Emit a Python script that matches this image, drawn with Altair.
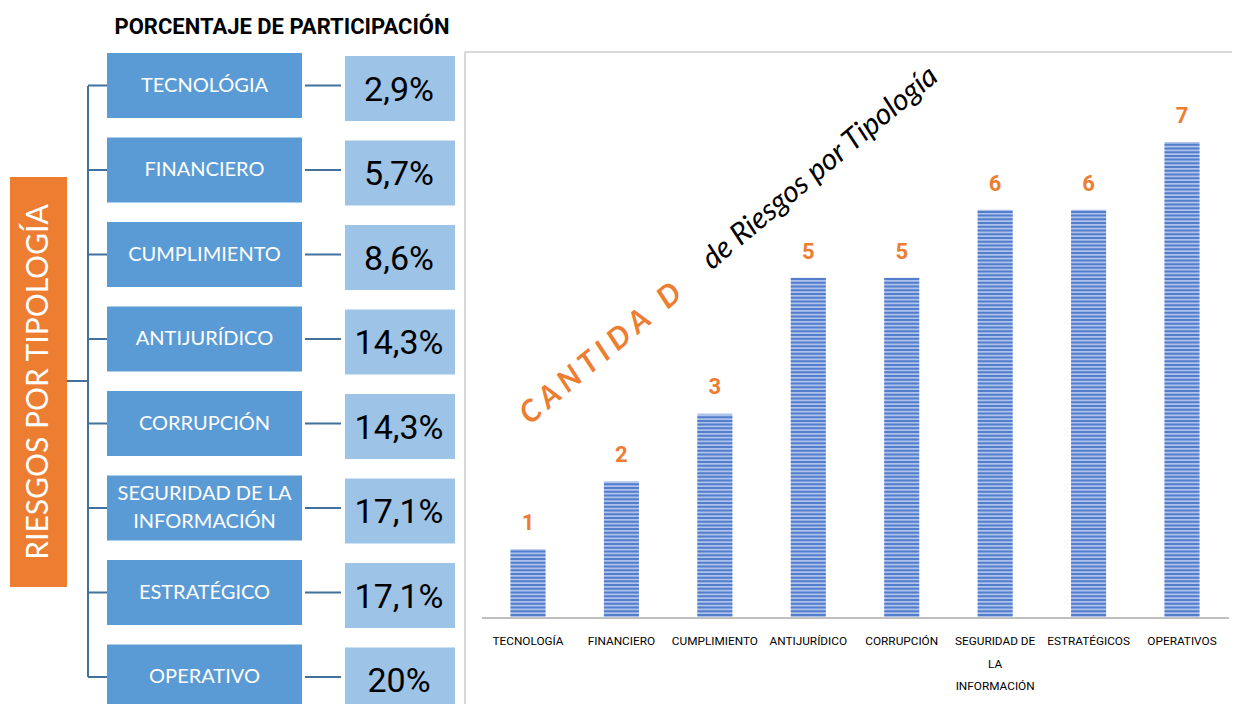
import altair as alt
import pandas as pd

# ---------------- data ----------------
diagram_cats = ["TECNOLÓGIA", "FINANCIERO", "CUMPLIMIENTO", "ANTIJURÍDICO", "CORRUPCIÓN",
                "SEGURIDAD DE LA\nINFORMACIÓN", "ESTRATÉGICO", "OPERATIVO"]
participation = ["2,9%", "5,7%", "8,6%", "14,3%", "14,3%", "17,1%", "17,1%", "20%"]

bar_cats = ["TECNOLOGÍA", "FINANCIERO", "CUMPLIMIENTO", "ANTIJURÍDICO", "CORRUPCIÓN",
            "SEGURIDAD DE\nLA\nINFORMACIÓN", "ESTRATÉGICOS", "OPERATIVOS"]
bar_counts = [1, 2, 3, 5, 5, 6, 6, 7]

title_left = "PORCENTAJE DE PARTICIPACIÓN"
side_label = "RIESGOS POR TIPOLOGÍA"
diag_title_a = "C A N T I D A\u00a0\u00a0\u00a0D"
diag_title_b = "de Riesgos por Tipología"

diag_df = pd.DataFrame({"cat": diagram_cats, "pct": participation})
bar_df = pd.DataFrame({"cat": bar_cats, "value": bar_counts})
one = pd.DataFrame({"k": [0]})

NARROW = "Roboto, sans-serif"
BODY = "Lato, Open Sans, sans-serif"

W, H = 1224, 696

# ---------------- scales (layout) ----------------
d_step = 84.5
d_pi = 1 - 65 / d_step
d_start = 45 - d_pi / 2 * d_step
y_diag = alt.Scale(domain=diagram_cats, range=[d_start, d_start + 8 * d_step],
                   paddingInner=d_pi, paddingOuter=d_pi / 2)
y_pct = alt.Scale(domain=diagram_cats, range=[d_start + 3, d_start + 3 + 8 * d_step],
                  paddingInner=d_pi, paddingOuter=d_pi / 2)

b_step = 93.43
b_pi = 1 - 35 / b_step
b_start = 520 - b_step / 2
x_bar = alt.Scale(domain=bar_cats, range=[b_start, b_start + 8 * b_step],
                  paddingInner=b_pi, paddingOuter=b_pi / 2)
unit = 67.86
y_bar = alt.Scale(domain=[0, 8], range=[609, 609 - 8 * unit], nice=False, zero=True)

line_col = "#41719C"

# ---------------- left diagram ----------------
yD = alt.Y("cat:N", scale=y_diag, axis=None)
yP = alt.Y("cat:N", scale=y_pct, axis=None)
is_multi = "indexof(datum.cat, '\\n') >= 0"

blue_boxes = alt.Chart(diag_df).mark_rect(color="#5B9BD5").encode(
    y=yD, x=alt.value(99), x2=alt.value(294))
blue_text_single = alt.Chart(diag_df).transform_filter("!(" + is_multi + ")").mark_text(
    color="white", font=BODY, fontSize=20, align="center", baseline="middle"
).encode(y=yD, x=alt.value(196.5), text="cat:N")
blue_text_multi = alt.Chart(diag_df).transform_filter(is_multi).mark_text(
    color="white", font=BODY, fontSize=20, lineBreak="\n", lineHeight=28,
    align="center", baseline="middle", dy=-14
).encode(y=yD, x=alt.value(196.5), text="cat:N")

pct_boxes = alt.Chart(diag_df).mark_rect(color="#9DC3E6").encode(
    y=yP, x=alt.value(337), x2=alt.value(447))
pct_text = alt.Chart(diag_df).mark_text(
    color="black", font=NARROW, fontSize=34, align="center", baseline="middle", dy=2
).encode(y=yP, x=alt.value(391), text="pct:N")

conn_left = alt.Chart(diag_df).mark_rule(color=line_col, strokeWidth=2).encode(
    y=yD, x=alt.value(80), x2=alt.value(99))
conn_mid = alt.Chart(diag_df).mark_rule(color=line_col, strokeWidth=2).encode(
    y=yD, x=alt.value(297), x2=alt.value(333))
conn_vert = alt.Chart(one).mark_rule(color=line_col, strokeWidth=2).encode(
    x=alt.value(80), y=alt.value(78), y2=alt.value(669))
conn_orange = alt.Chart(one).mark_rule(color=line_col, strokeWidth=2).encode(
    x=alt.value(59), x2=alt.value(80), y=alt.value(373))

orange_box = alt.Chart(one).mark_rect(color="#ED7D31").encode(
    x=alt.value(2), x2=alt.value(59), y=alt.value(169), y2=alt.value(579))
orange_text = alt.Chart(one).mark_text(
    color="white", font=BODY, fontSize=30, angle=270, align="center", baseline="middle"
).encode(x=alt.value(31), y=alt.value(374), text=alt.value(side_label))

left_title = alt.Chart(one).mark_text(
    color="black", font=NARROW, fontSize=22, fontWeight="bold", align="center", baseline="middle"
).encode(x=alt.value(274), y=alt.value(19), text=alt.value(title_left))

# ---------------- right bar chart ----------------
frame_h = alt.Chart(one).mark_rule(color="#D9D9D9", strokeWidth=2).encode(
    x=alt.value(457), x2=alt.value(1240), y=alt.value(44))
frame_v = alt.Chart(one).mark_rule(color="#D9D9D9", strokeWidth=2).encode(
    x=alt.value(457), y=alt.value(44), y2=alt.value(720))

xB = alt.X("cat:N", scale=x_bar, axis=None)

bars = alt.Chart(bar_df).mark_bar(color="#AEC3EC").encode(
    x=xB, y=alt.Y("value:Q", scale=y_bar, axis=None))

stripes = alt.Chart(bar_df).transform_calculate(
    seq="sequence(0.03, datum.value, 0.055)"
).transform_flatten(["seq"]).mark_tick(
    color="#4A76C9", thickness=2, size=35, opacity=0.9
).encode(x=xB, y=alt.Y("seq:Q", scale=y_bar, axis=None))

baseline = alt.Chart(one).mark_rule(color="#BFBFBF", strokeWidth=2).encode(
    x=alt.value(474), x2=alt.value(1221), y=alt.value(610))

value_labels = alt.Chart(bar_df).mark_text(
    color="#ED7D31", font=NARROW, fontSize=22, fontWeight="bold", dy=-26, baseline="middle"
).encode(x=xB, y=alt.Y("value:Q", scale=y_bar, axis=None), text="value:Q")

cat_labels = alt.Chart(bar_df).mark_text(
    color="black", font=NARROW, fontSize=11.8, lineBreak="\n", lineHeight=22.5, baseline="top"
).encode(x=xB, y=alt.value(628), text="cat:N")

diag_a = alt.Chart(one).mark_text(
    color="#ED7D31", font=BODY, fontSize=30, fontWeight="bold", fontStyle="italic",
    angle=320, align="center", baseline="middle"
).encode(x=alt.value(593), y=alt.value(346), text=alt.value(diag_title_a))

diag_b = alt.Chart(one).mark_text(
    color="black", font=BODY, fontSize=30, fontStyle="italic",
    angle=320, align="center", baseline="middle"
).encode(x=alt.value(812), y=alt.value(160), text=alt.value(diag_title_b))

chart = alt.layer(
    frame_h, frame_v,
    conn_vert, conn_orange, conn_left, conn_mid,
    blue_boxes, blue_text_single, blue_text_multi, pct_boxes, pct_text,
    orange_box, orange_text, left_title,
    bars, stripes, baseline, value_labels, cat_labels, diag_a, diag_b
).resolve_scale(x="independent", y="independent").properties(
    width=W, height=H, padding=0, autosize=alt.AutoSizeParams(type="none"), background="white"
).configure_view(stroke=None)

chart.save("out.html", embed_options={"renderer": "svg", "actions": False})
